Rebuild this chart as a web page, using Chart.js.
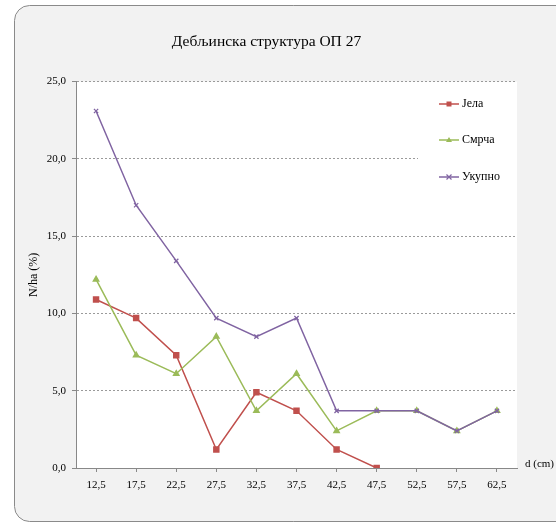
<!DOCTYPE html>
<html>
<head>
<meta charset="utf-8">
<title>Дебљинска структура ОП 27</title>
<script src="https://cdn.jsdelivr.net/npm/chart.js@4/dist/chart.umd.min.js"></script>
<style>
  html, body { margin: 0; padding: 0; background: #fff; }
  #wrap { width: 556px; height: 524px; }
</style>
</head>
<body>
<div id="wrap"><canvas id="chart" width="556" height="524"></canvas></div>
<script>
// diameter classes (cm)
const classes = ['12,5', '17,5', '22,5', '27,5', '32,5', '37,5', '42,5', '47,5', '52,5', '57,5', '62,5'];
// N/ha share (%) by species
const jela = [10.9, 9.7, 7.3, 1.2, 4.9, 3.7, 1.2, 0.0, null, null, null];
const smrca = [12.2, 7.3, 6.1, 8.5, 3.7, 6.1, 2.4, 3.7, 3.7, 2.4, 3.7];
const ukupno = [23.1, 17.0, 13.4, 9.7, 8.5, 9.7, 3.7, 3.7, 3.7, 2.4, 3.7];
const yTicks = [0, 5, 10, 15, 20, 25];

const serif = '"Liberation Serif", "DejaVu Serif", serif';

const COLORS = {
    jela: '#c0504d',
    smrca: '#9bbb59',
    ukupno: '#8064a2'
};

// frame, grey panel and white plot area
const backgroundPlugin = {
    id: 'frame',
    beforeDraw(chart) {
        const ctx = chart.ctx;
        const a = chart.chartArea;
        ctx.save();
        ctx.fillStyle = '#ffffff';
        ctx.fillRect(0, 0, chart.width, chart.height);
        ctx.beginPath();
        ctx.roundRect(14.5, 5.5, 580, 516, 15);
        ctx.fillStyle = '#f2f2f2';
        ctx.fill();
        ctx.strokeStyle = '#8a8a8a';
        ctx.lineWidth = 1;
        ctx.stroke();
        ctx.fillStyle = '#ffffff';
        ctx.fillRect(a.left, a.top, a.right - a.left, a.bottom - a.top);
        ctx.restore();
    }
};

// legend sits inside the plot on a white box
const legendPlugin = {
    id: 'insideLegend',
    beforeDatasetsDraw(chart) {
        const ctx = chart.ctx;
        const a = chart.chartArea;
        ctx.save();
        ctx.fillStyle = '#ffffff';
        ctx.fillRect(418, a.top + 6, a.right - 418, 140);
        const items = [
            { text: 'Јела', color: COLORS.jela, shape: 'rect', y: 104 },
            { text: 'Смрча', color: COLORS.smrca, shape: 'tri', y: 140 },
            { text: 'Укупно', color: COLORS.ukupno, shape: 'cross', y: 177 }
        ];
        items.forEach(it => {
            ctx.strokeStyle = it.color;
            ctx.fillStyle = it.color;
            ctx.lineWidth = 1.5;
            ctx.beginPath();
            ctx.moveTo(439, it.y);
            ctx.lineTo(459, it.y);
            ctx.stroke();
            const cx = 449, cy = it.y;
            ctx.beginPath();
            if (it.shape === 'rect') {
                ctx.rect(cx - 2.5, cy - 2.5, 5, 5);
                ctx.fill();
            } else if (it.shape === 'tri') {
                ctx.moveTo(cx, cy - 3);
                ctx.lineTo(cx + 3, cy + 2);
                ctx.lineTo(cx - 3, cy + 2);
                ctx.closePath();
                ctx.fill();
            } else {
                ctx.lineWidth = 1.2;
                ctx.moveTo(cx - 2.5, cy - 2.5);
                ctx.lineTo(cx + 2.5, cy + 2.5);
                ctx.moveTo(cx + 2.5, cy - 2.5);
                ctx.lineTo(cx - 2.5, cy + 2.5);
                ctx.stroke();
            }
            ctx.fillStyle = '#000';
            ctx.font = '12px ' + serif;
            ctx.textAlign = 'left';
            ctx.textBaseline = 'middle';
            ctx.fillText(it.text, 462, it.y);
        });
        ctx.restore();
    },
    afterDraw(chart) {
        const ctx = chart.ctx;
        const a = chart.chartArea;
        ctx.save();
        ctx.fillStyle = '#000';
        ctx.font = '11px ' + serif;
        ctx.textAlign = 'left';
        ctx.textBaseline = 'middle';
        ctx.fillText('d (cm)', a.right + 8, a.bottom - 4);
        ctx.restore();
    }
};

new Chart(document.getElementById('chart'), {
    type: 'line',
    data: {
        labels: classes,
        datasets: [
            {
                label: 'Јела',
                data: jela,
                borderColor: COLORS.jela,
                backgroundColor: COLORS.jela,
                pointStyle: 'rect',
                pointRadius: 3.5,
                borderWidth: 1.5,
                order: 2
            },
            {
                label: 'Смрча',
                data: smrca,
                borderColor: COLORS.smrca,
                backgroundColor: COLORS.smrca,
                pointStyle: 'triangle',
                pointRadius: 3,
                borderWidth: 1.5,
                order: 1
            },
            {
                label: 'Укупно',
                data: ukupno,
                borderColor: COLORS.ukupno,
                backgroundColor: COLORS.ukupno,
                pointStyle: 'crossRot',
                pointRadius: 3,
                pointBorderWidth: 1.3,
                borderWidth: 1.5,
                order: 0
            }
        ]
    },
    options: {
        responsive: false,
        animation: false,
        spanGaps: false,
        layout: { padding: { left: 16, right: 39, top: 0, bottom: 26 } },
        plugins: {
            legend: { display: false },
            tooltip: { enabled: false },
            title: {
                display: true,
                text: 'Дебљинска структура ОП 27',
                color: '#000',
                font: { family: serif, size: 15.5, weight: 'normal' },
                padding: { top: 33, bottom: 30 }
            }
        },
        scales: {
            x: {
                offset: true,
                afterFit: s => { s.height = 30; },
                grid: {
                    drawOnChartArea: false,
                    drawTicks: true,
                    tickLength: 4,
                    tickColor: '#888'
                },
                border: { color: '#888', width: 1 },
                ticks: {
                    color: '#000',
                    padding: 7,
                    maxRotation: 0,
                    autoSkip: false,
                    font: { family: serif, size: 11 }
                }
            },
            y: {
                min: 0,
                max: 25,
                afterFit: s => { s.width = 60; },
                afterBuildTicks: s => { s.ticks = yTicks.map(v => ({ value: v })); },
                grid: {
                    color: ctx => ctx.tick && ctx.tick.value === 0 ? 'rgba(0,0,0,0)' : '#9a9a9a',
                    tickColor: '#888',
                    tickLength: 4,
                    tickBorderDash: [],
                    lineWidth: 1
                },
                border: { color: '#888', width: 1, dash: [2, 2] },
                ticks: {
                    color: '#000',
                    padding: 6,
                    font: { family: serif, size: 11 },
                    callback: v => v.toFixed(1).replace('.', ',')
                },
                title: {
                    display: true,
                    text: 'N/ha (%)',
                    color: '#000',
                    font: { family: serif, size: 12 },
                    padding: { top: 11, bottom: 0 }
                }
            }
        }
    },
    plugins: [backgroundPlugin, legendPlugin]
});
</script>
</body>
</html>
